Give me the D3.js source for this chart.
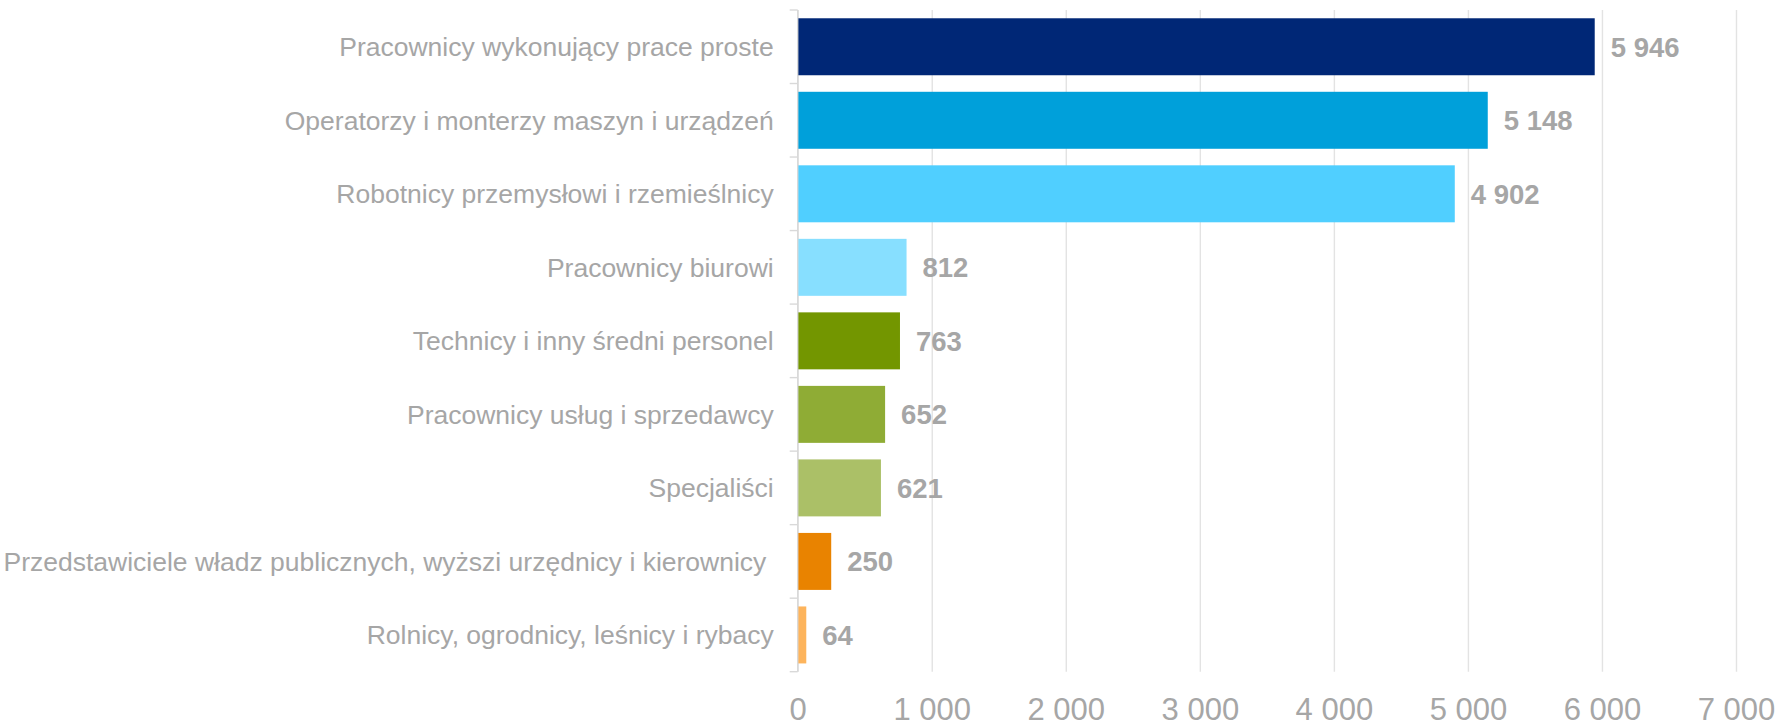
<!DOCTYPE html>
<html>
<head>
<meta charset="utf-8">
<script src="https://cdn.jsdelivr.net/npm/d3@7"></script>
<style>
  body { margin: 0; background: #fff; }
  text { font-family: "Liberation Sans", Arial, sans-serif; }
</style>
</head>
<body>
<script>
// data
var categories = [
  "Pracownicy wykonujący prace proste",
  "Operatorzy i monterzy maszyn i urządzeń",
  "Robotnicy przemysłowi i rzemieślnicy",
  "Pracownicy biurowi",
  "Technicy i inny średni personel",
  "Pracownicy usług i sprzedawcy",
  "Specjaliści",
  "Przedstawiciele władz publicznych, wyższi urzędnicy i kierownicy ",
  "Rolnicy, ogrodnicy, leśnicy i rybacy"
];
var values = [5946, 5148, 4902, 812, 763, 652, 621, 250, 64];
var barColors = ["#002776", "#00a0da", "#50cfff", "#87dfff", "#739600", "#8fac35", "#abc067", "#e98300", "#fdb45c"];
var xTicks = [0, 1000, 2000, 3000, 4000, 5000, 6000, 7000];

// SVG area
var width = 1779;
var height = 723;

var margin = {
  top: 10,
  right: 43,
  bottom: 51.3,
  left: 797.7
};

var chartWidth = width - margin.left - margin.right;
var chartHeight = height - margin.top - margin.bottom;

var textGrey = "#a6a6a6";

var svg = d3.select("body")
  .append("svg")
  .attr("width", width)
  .attr("height", height);

var chartGroup = svg.append("g")
  .attr("transform", `translate(${margin.left}, ${margin.top})`);

// scales
var xScale = d3.scaleLinear()
  .domain([0, 7000])
  .range([0, chartWidth]);

var yScale = d3.scaleBand()
  .domain(categories)
  .range([0, chartHeight])
  .paddingInner(0.225)
  .paddingOuter(0.1125);

// space as thousands separator
var plLocale = d3.formatLocale({ decimal: ",", thousands: " ", grouping: [3], currency: ["", " zł"] });
var fmt = plLocale.format(",d");

// x axis with gridlines
var xAxis = d3.axisBottom(xScale)
  .tickValues(xTicks)
  .tickSizeInner(-chartHeight)
  .tickSizeOuter(0)
  .tickFormat(fmt);

var xAxisGroup = chartGroup.append("g")
  .attr("transform", `translate(0, ${chartHeight})`)
  .call(xAxis);

xAxisGroup.select(".domain").remove();
xAxisGroup.selectAll(".tick line")
  .attr("stroke", "#e3e3e3")
  .attr("stroke-width", 1.4);
xAxisGroup.selectAll(".tick text")
  .attr("y", 48.3)
  .attr("dy", 0)
  .attr("fill", textGrey)
  .style("font-size", "31px")
  .style("font-family", "'Liberation Sans', Arial, sans-serif");

// bars
chartGroup.selectAll(".bar")
  .data(values)
  .enter()
  .append("rect")
  .attr("class", "bar")
  .attr("x", xScale(0))
  .attr("y", (d, i) => yScale(categories[i]))
  .attr("width", d => xScale(d) - xScale(0))
  .attr("height", yScale.bandwidth())
  .attr("fill", (d, i) => barColors[i]);

// left axis line + ticks at category boundaries
var boundaries = categories.map(c => yScale(c) - yScale.step() * yScale.paddingInner() / 2);
boundaries.push(chartHeight);

chartGroup.append("line")
  .attr("x1", 0).attr("x2", 0)
  .attr("y1", 0).attr("y2", chartHeight)
  .attr("stroke", "#d9d9d9")
  .attr("stroke-width", 1.4);

chartGroup.selectAll(".ytick")
  .data(boundaries)
  .enter()
  .append("line")
  .attr("class", "ytick")
  .attr("x1", -8).attr("x2", 0)
  .attr("y1", d => d).attr("y2", d => d)
  .attr("stroke", "#d9d9d9")
  .attr("stroke-width", 1.4);

// category labels
chartGroup.selectAll(".cat")
  .data(categories)
  .enter()
  .append("text")
  .attr("class", "cat")
  .attr("x", -24)
  .attr("y", d => yScale(d) + yScale.bandwidth() / 2)
  .attr("dy", "0.35em")
  .attr("text-anchor", "end")
  .attr("fill", textGrey)
  .style("font-size", "26.5px")
  .style("white-space", "pre")
  .text(d => d);

// value labels
chartGroup.selectAll(".val")
  .data(values)
  .enter()
  .append("text")
  .attr("class", "val")
  .attr("x", d => xScale(d) + 16)
  .attr("y", (d, i) => yScale(categories[i]) + yScale.bandwidth() / 2)
  .attr("dy", "0.36em")
  .attr("fill", textGrey)
  .style("font-size", "27.5px")
  .style("font-weight", "bold")
  .text(d => fmt(d));
</script>
</body>
</html>
